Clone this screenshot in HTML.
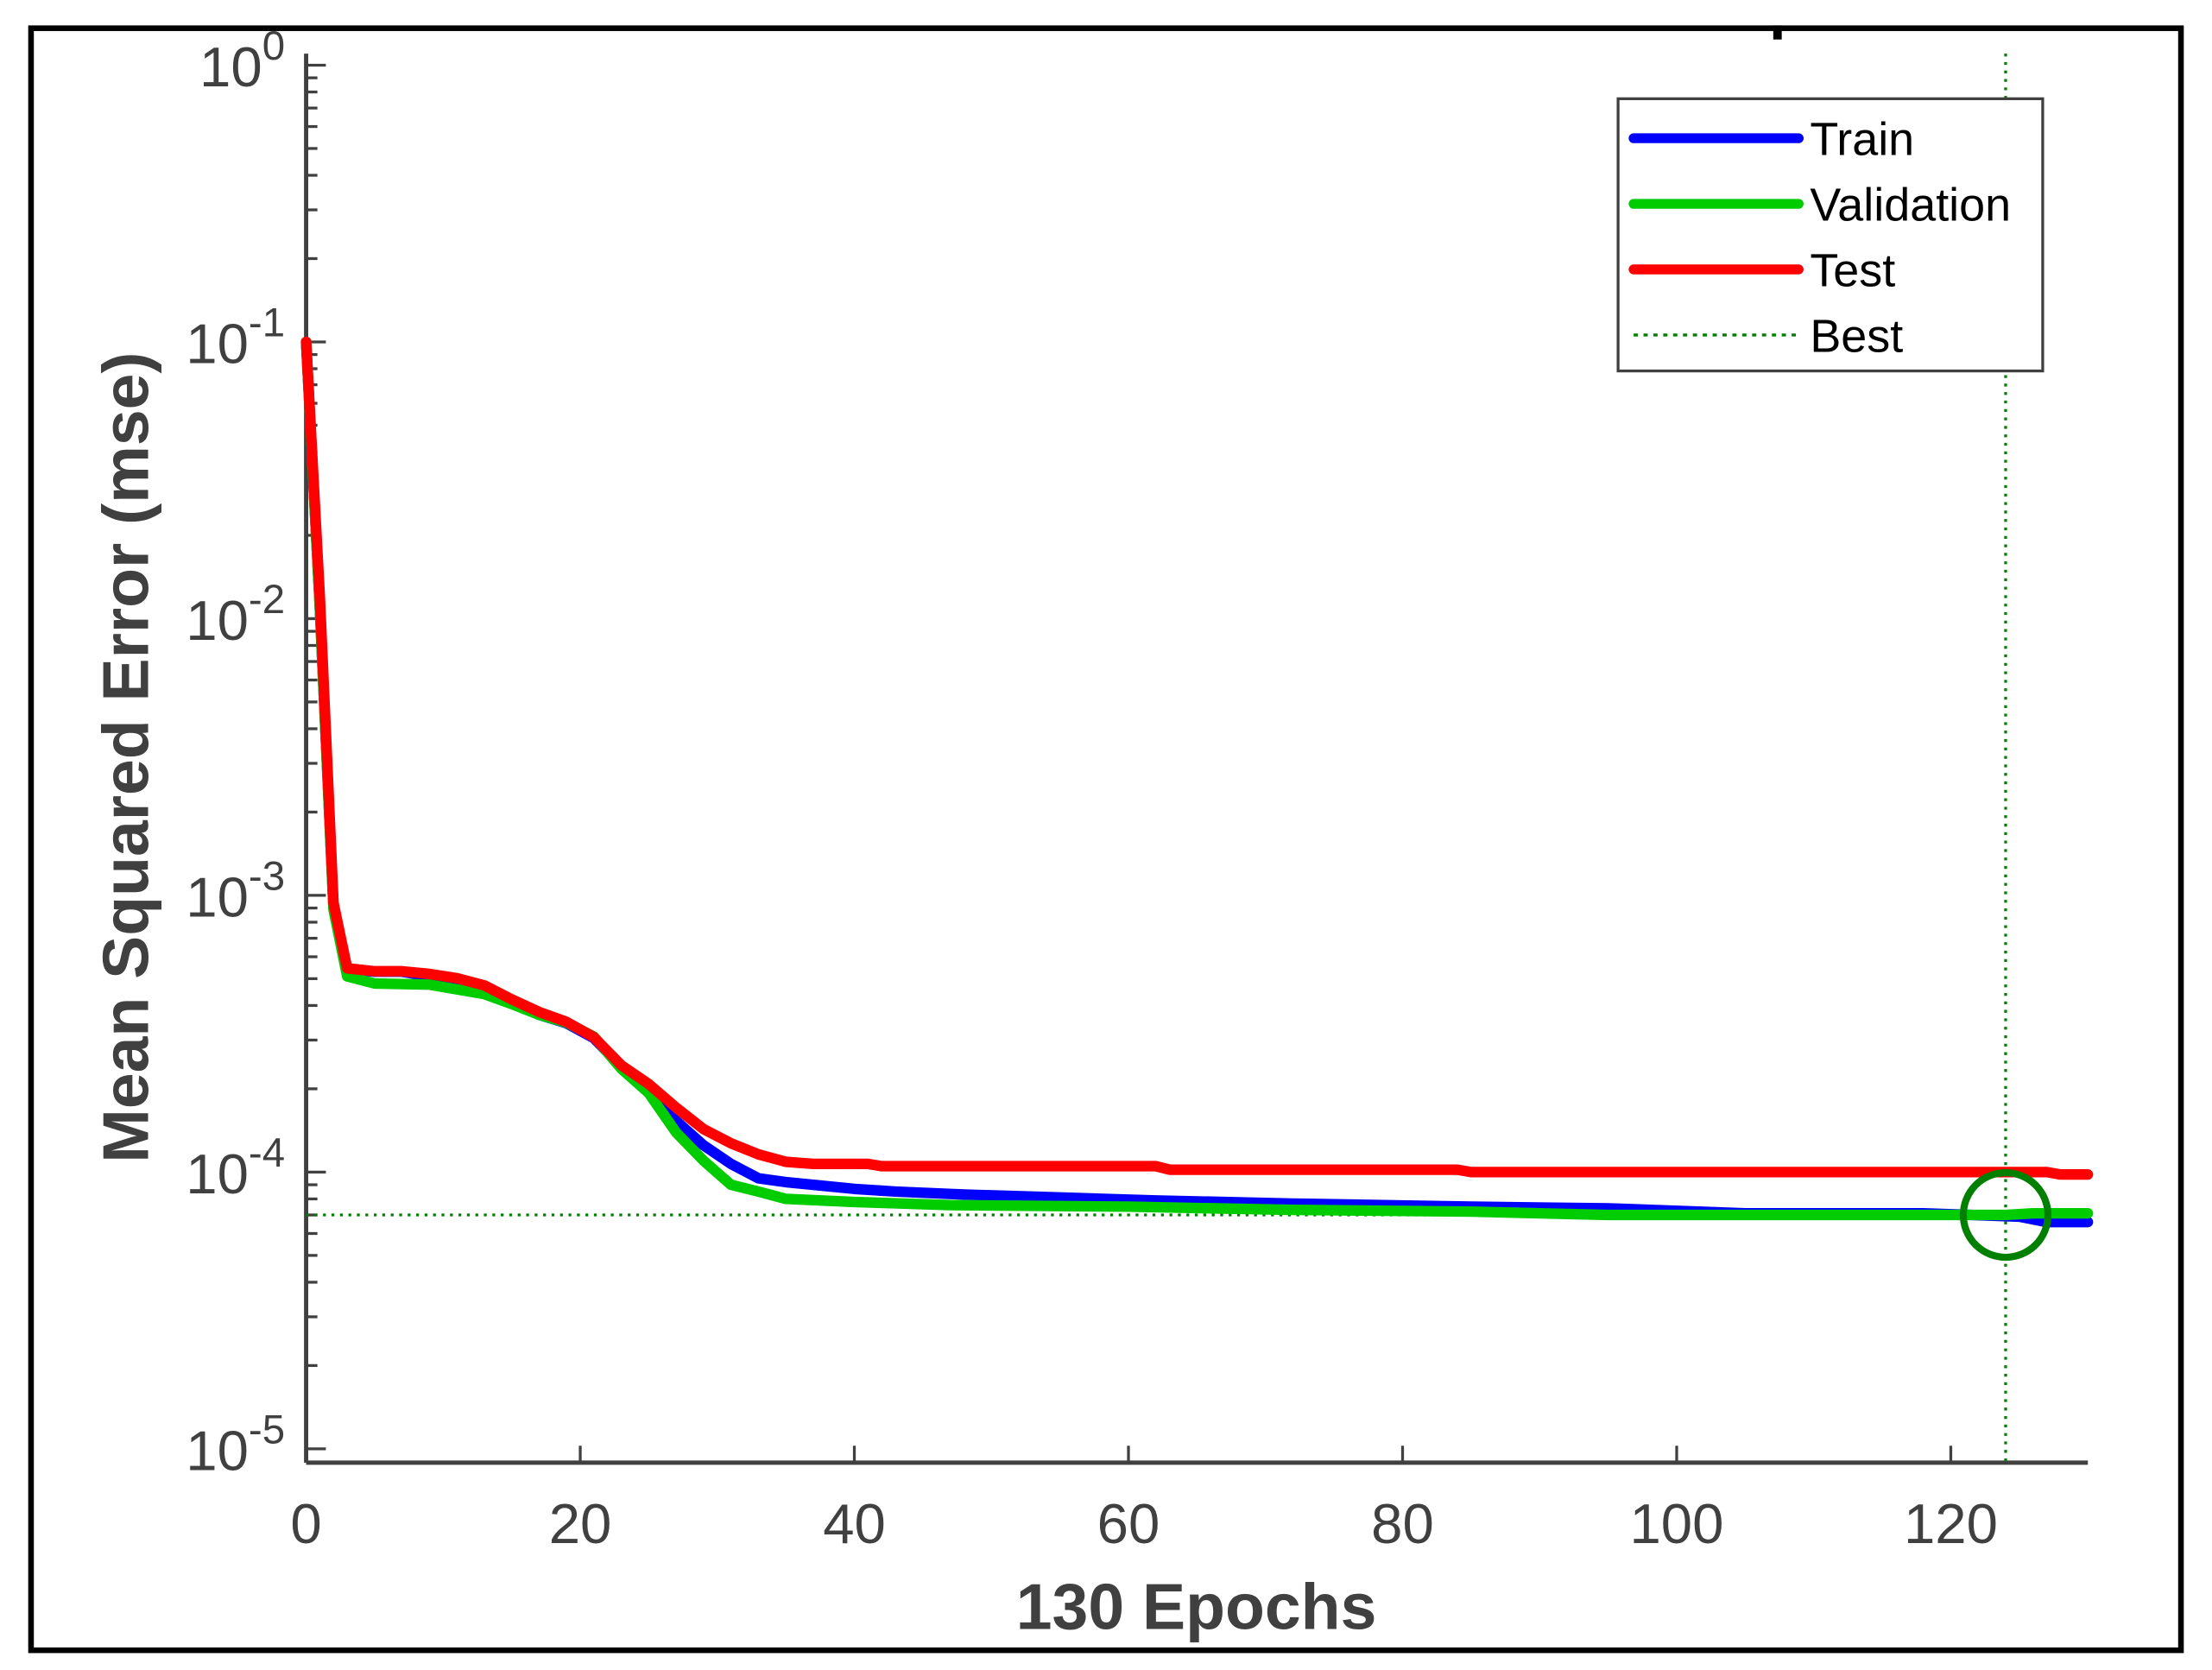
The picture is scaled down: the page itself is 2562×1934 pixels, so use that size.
<!DOCTYPE html>
<html><head><meta charset="utf-8"><style>
html,body{margin:0;padding:0;background:#fff;}
svg{display:block;}
</style></head><body>
<svg id="chart" width="2562" height="1934" viewBox="0 0 1568 1184" preserveAspectRatio="none" xmlns="http://www.w3.org/2000/svg" font-family="Liberation Sans, sans-serif">
<rect x="0" y="0" width="1568" height="1184" fill="#fff"/>
<rect x="22" y="20" width="1524" height="1150" fill="none" stroke="#000" stroke-width="4"/>
<rect x="1257" y="18" width="6" height="10" fill="#000"/>
<g id="axes"></g>
<g id="series"></g>
<g id="legend"></g>
</svg>
<script>
const NS='http://www.w3.org/2000/svg';
const trainEpochs=[0,1,2,3,5,7,9,11,13,15,17,19,21,23,25,27,29,31,33,35,37,40,43,48,55,62,72,85,95,105,118,125,127,130];
const trainValues=[0.1,0.011,9e-4,5.4e-4,5.3e-4,5.3e-4,5.1e-4,4.9e-4,4.6e-4,4.1e-4,3.7e-4,3.45e-4,3.05e-4,2.4e-4,2.05e-4,1.53e-4,1.25e-4,1.07e-4,9.5e-5,9.2e-5,9.0e-5,8.7e-5,8.5e-5,8.3e-5,8.1e-5,7.9e-5,7.7e-5,7.5e-5,7.4e-5,7.1e-5,7.1e-5,6.9e-5,6.6e-5,6.6e-5];
const valEpochs=[0,1,2,3,5,9,13,15,17,19,21,23,25,27,29,31,33,35,40,47,60,72,85,95,124,126,130];
const valValues=[0.1,0.011,8.9e-4,5.1e-4,4.8e-4,4.76e-4,4.4e-4,4.05e-4,3.7e-4,3.47e-4,3.09e-4,2.36e-4,1.93e-4,1.39e-4,1.1e-4,9.0e-5,8.5e-5,8.0e-5,7.8e-5,7.6e-5,7.5e-5,7.3e-5,7.2e-5,7.0e-5,7.0e-5,7.1e-5,7.1e-5];
const testEpochs=[0,1,2,3,5,7,9,11,13,15,17,19,21,23,25,27,29,31,33,35,37,41,42,62,63,84,85,127,128,130];
const testValues=[0.1,0.012,9.4e-4,5.45e-4,5.32e-4,5.32e-4,5.2e-4,5.02e-4,4.73e-4,4.21e-4,3.79e-4,3.49e-4,3.07e-4,2.43e-4,2.08e-4,1.71e-4,1.43e-4,1.27e-4,1.16e-4,1.09e-4,1.07e-4,1.07e-4,1.05e-4,1.05e-4,1.02e-4,1.02e-4,1.0e-4,1.0e-4,0.98e-4,0.98e-4];
const bestEpoch=124;
const bestValue=7.0e-5;
const xTicks=[0,20,40,60,80,100,120];
const yExps=[0,-1,-2,-3,-4,-5];

const X0=217,X1=1480,Y0=1037;
function xs(e){return X0+(e/130)*(X1-X0);}
function ys(v){return 831-(Math.log10(v)+4)*196.2;}
function mk(tag,attrs,parent){const el=document.createElementNS(NS,tag);for(const k in attrs)el.setAttribute(k,attrs[k]);parent.appendChild(el);return el;}
const axes=document.getElementById('axes');
const series=document.getElementById('series');
const legend=document.getElementById('legend');
const gray='#404040';
let l=mk('line',{x1:X0,y1:Y0,x2:X1,y2:Y0,stroke:gray,'stroke-width':3},axes);


l=mk('line',{x1:X0,y1:Y0,x2:X0,y2:38,stroke:gray,'stroke-width':3},axes);


xTicks.forEach(t=>{
  const x=xs(t);
  const tk=mk('line',{x1:x,y1:Y0,x2:x,y2:Y0-12,stroke:gray,'stroke-width':2},axes);
  
  
  const tx=mk('text',{x:x,y:1094,'text-anchor':'middle','font-size':40,fill:gray},axes);
  tx.textContent=t;
  
  
});
yExps.forEach(p=>{
  const y=ys(Math.pow(10,p));
  const tk=mk('line',{x1:X0,y1:y,x2:X0+14,y2:y,stroke:gray,'stroke-width':2},axes);
  
  
  const tx=mk('text',{x:202,y:y+15,'text-anchor':'end','font-size':40,fill:gray},axes);
  
  
  const b=mk('tspan',{},tx);b.textContent='10';
  const s=mk('tspan',{dy:-19,'font-size':29},tx);s.textContent=String(p);
  if(p>-5){for(let m=2;m<=9;m++){
    const ym=ys(m*Math.pow(10,p-1));
    const mt=mk('line',{x1:X0,y1:ym,x2:X0+8,y2:ym,stroke:gray,'stroke-width':2},axes);
    
    
  }}
});
let t=mk('text',{x:848,y:1155,'text-anchor':'middle','font-size':46,'font-weight':'bold',fill:gray},axes);
t.textContent='130 Epochs';


t=mk('text',{x:0,y:0,'text-anchor':'middle','font-size':46,'font-weight':'bold',fill:gray,transform:'translate(105,537) rotate(-90)'},axes);
t.textContent='Mean Squared Error  (mse)';


l=mk('line',{x1:X0,y1:ys(bestValue),x2:X1,y2:ys(bestValue),stroke:'#007f00','stroke-width':2,'stroke-dasharray':'2 4'},series);


l=mk('line',{x1:xs(bestEpoch),y1:38,x2:xs(bestEpoch),y2:Y0,stroke:'#007f00','stroke-width':2,'stroke-dasharray':'2 4'},series);


function path(ex,vs,color,name){
  const d=ex.map((e,i)=>(i?'L':'M')+xs(e).toFixed(1)+','+ys(vs[i]).toFixed(1)).join(' ');
  const p=mk('path',{d:d,fill:'none',stroke:color,'stroke-width':7.5,'stroke-linejoin':'round','stroke-linecap':'round'},series);
  
  
}
path(trainEpochs,trainValues,'#0000ff','train-line');
path(valEpochs,valValues,'#00cc00','validation-line');
path(testEpochs,testValues,'#ff0000','test-line');
const c=mk('circle',{cx:xs(bestEpoch),cy:ys(bestValue),r:30,fill:'none',stroke:'#007f00','stroke-width':5},series);


const lb=mk('rect',{x:1147,y:70,width:301,height:193,fill:'#fff',stroke:gray,'stroke-width':2},legend);


const items=[['Train','#0000ff',false],['Validation','#00cc00',false],['Test','#ff0000',false],['Best','#007f00',true]];
items.forEach((it,i)=>{
  const y=98+i*46.5;
  const ln=mk('line',{x1:1158,y1:y,x2:1275,y2:y,stroke:it[1],'stroke-width':it[2]?2:7,'stroke-linecap':it[2]?'butt':'round','stroke-dasharray':it[2]?'3 4':'none'},legend);
  
  
  const tx=mk('text',{x:1283,y:y+12,'font-size':33,fill:'#000'},legend);
  tx.textContent=it[0];
  
  
});
</script>
</body></html>
